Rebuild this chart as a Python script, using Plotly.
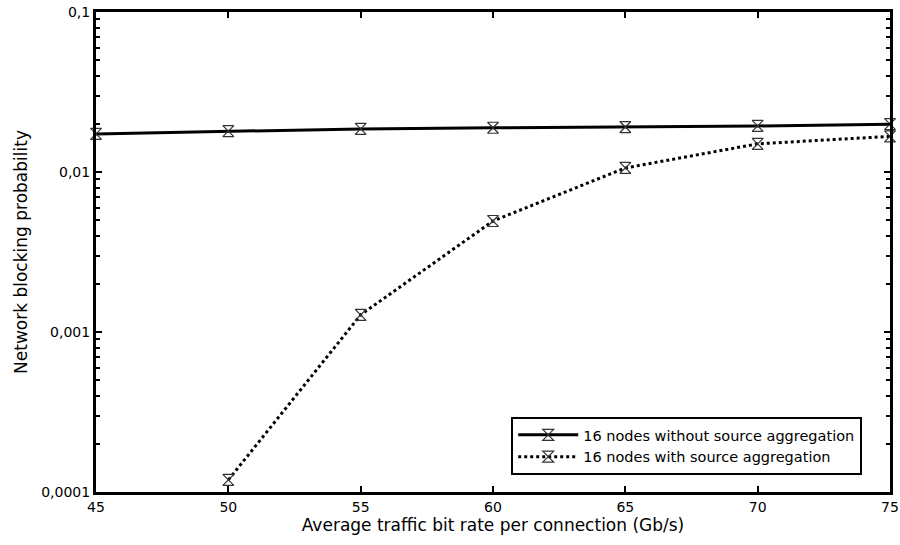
import plotly.graph_objects as go

x_vals = [45, 50, 55, 60, 65, 70, 75]
without_agg = [0.0173, 0.0180, 0.0186, 0.0189, 0.0191, 0.0194, 0.0199]
x_with = [50, 55, 60, 65, 70, 75]
with_agg = [0.000119, 0.00128, 0.00494, 0.0106, 0.0150, 0.0167]

y_tickvals = [0.0001, 0.001, 0.01, 0.1]
y_ticktext = ["0,0001", "0,001", "0,01", "0,1"]

fig = go.Figure()
fig.add_trace(go.Scatter(
    x=x_vals, y=without_agg, mode="lines+markers",
    name="16 nodes without source aggregation",
    line=dict(color="black", width=3),
    marker=dict(symbol="hourglass-open", size=11, color="#333333", line=dict(width=1.2)),
    cliponaxis=False,
))
fig.add_trace(go.Scatter(
    x=x_with, y=with_agg, mode="lines+markers",
    name="16 nodes with source aggregation",
    line=dict(color="black", width=3, dash="dot"),
    marker=dict(symbol="hourglass-open", size=11, color="#333333", line=dict(width=1.2)),
    cliponaxis=False,
))

font = dict(family="DejaVu Sans, Verdana, sans-serif", size=14, color="black")
fig.update_layout(
    width=900, height=545,
    margin=dict(l=96, r=10, t=12, b=53),
    plot_bgcolor="white", paper_bgcolor="white",
    font=font,
    showlegend=True,
    legend=dict(x=0.965, y=0.096, xanchor="right", yanchor="middle",
                bordercolor="black", borderwidth=2, bgcolor="white",
                font=dict(size=14.5), tracegroupgap=0, itemwidth=60),
    xaxis=dict(
        range=[45, 75], tickvals=[45, 50, 55, 60, 65, 70, 75],
        ticks="inside", ticklen=6, tickwidth=2, tickcolor="black",
        showline=True, linecolor="black", linewidth=3, mirror="ticks",
        showgrid=False, zeroline=False, automargin=False,
        title=dict(text="Average traffic bit rate per connection (Gb/s)", standoff=4),
    ),
    yaxis=dict(
        type="log", range=[-4, -1],
        tickvals=y_tickvals, ticktext=y_ticktext,
        ticks="inside", ticklen=6, tickwidth=2, tickcolor="black",
        minor=dict(ticks="inside", ticklen=4, tickwidth=2, tickcolor="black",
                   tickvals=[m * 10**e for e in (-4, -3, -2) for m in range(2, 10)]),
        showline=True, linecolor="black", linewidth=3, mirror="ticks",
        showgrid=False, zeroline=False, automargin=False,
        title=dict(text="Network blocking probability", standoff=10),
    ),
)
fig.write_html("out.html")
